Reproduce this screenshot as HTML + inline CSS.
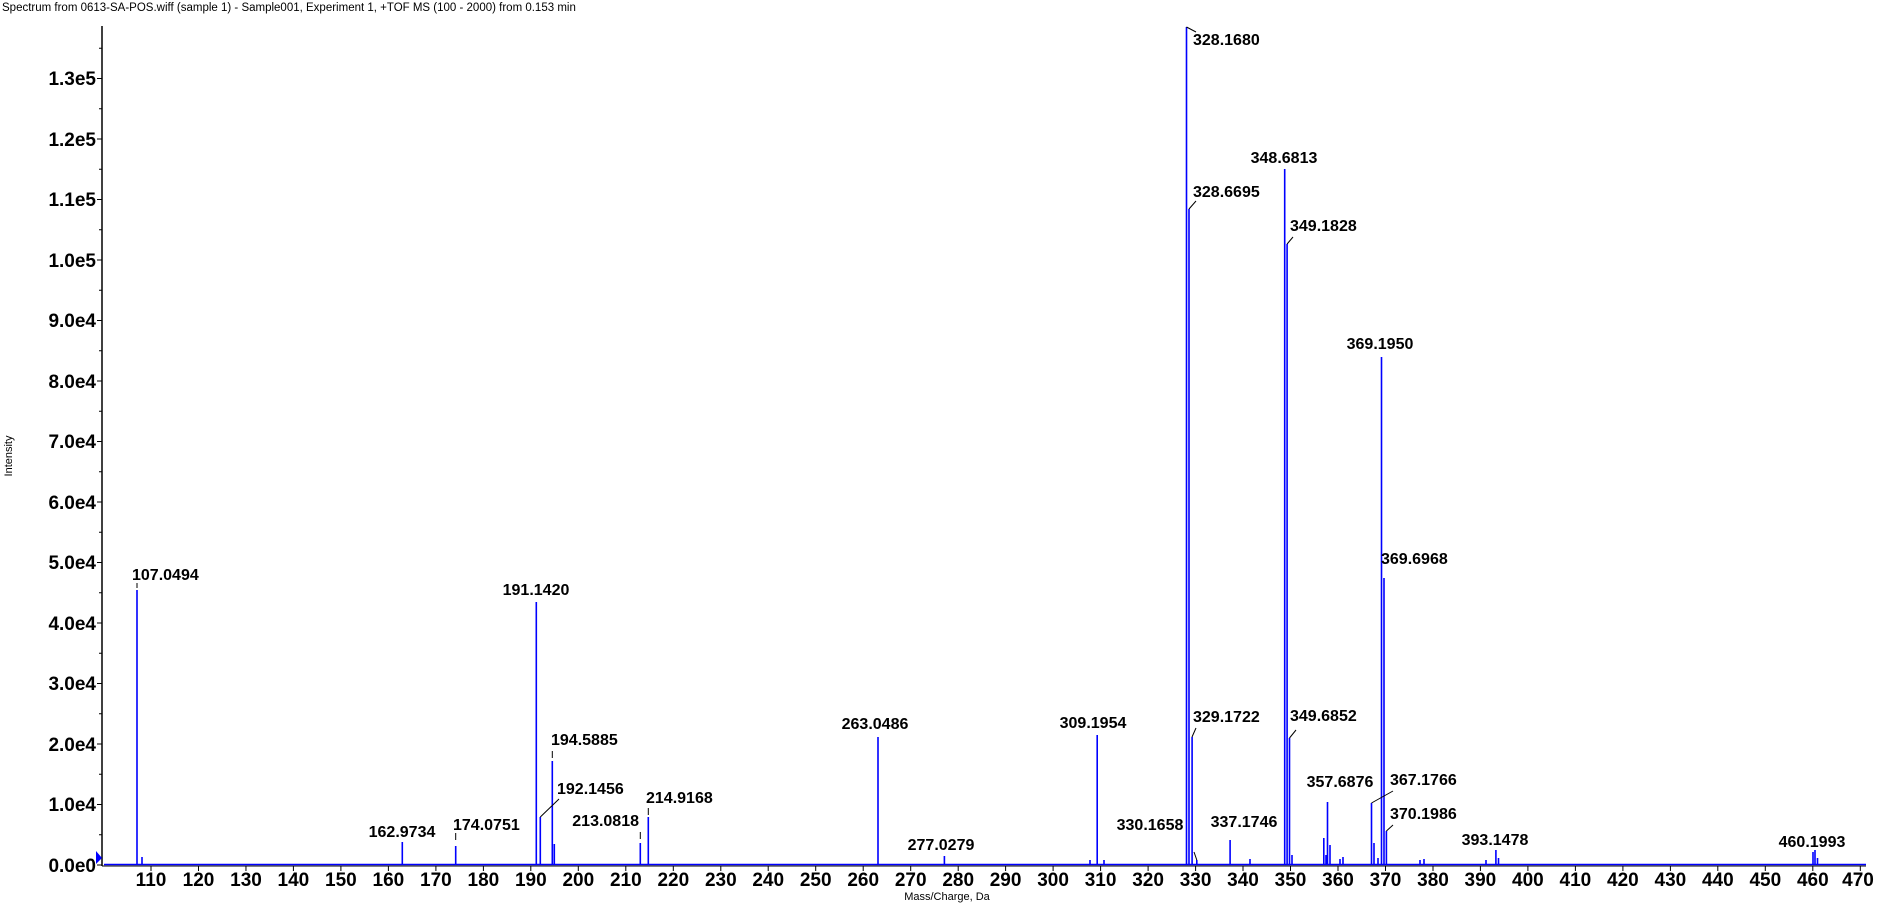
<!DOCTYPE html>
<html><head><meta charset="utf-8"><style>
html,body{margin:0;padding:0;background:#fff;}
svg{display:block;}
.t{font-family:"Liberation Sans",Arial,sans-serif;}
.lb{font-family:"Liberation Sans",Arial,sans-serif;font-size:16px;font-weight:bold;fill:#000;}
.ax{font-family:"Liberation Sans",Arial,sans-serif;font-size:19px;font-weight:bold;fill:#000;}
</style></head><body>
<svg width="1883" height="907" viewBox="0 0 1883 907" xmlns="http://www.w3.org/2000/svg">
<text x="2" y="11" class="t" font-size="11.5">Spectrum from 0613-SA-POS.wiff (sample 1) - Sample001, Experiment 1, +TOF MS (100 - 2000) from 0.153 min</text>
<text class="t" font-size="11" transform="translate(12,456) rotate(-90)" text-anchor="middle">Intensity</text>
<text x="947" y="900" class="t" font-size="11" text-anchor="middle">Mass/Charge, Da</text>
<line x1="102" y1="26" x2="102" y2="866" stroke="#000" stroke-width="1.5"/>
<line x1="102" y1="866" x2="1866" y2="866" stroke="#000" stroke-width="1"/>
<g stroke="#000" stroke-width="1">
<path d="M97 865H102M97 804.5H102M97 744H102M97 683.5H102M97 623H102M97 562.5H102M97 502H102M97 441.5H102M97 381H102M97 320.5H102M97 260H102M97 199.5H102M97 139H102M97 78.5H102"/>
<path d="M99 834.75H102M99 774.25H102M99 713.75H102M99 653.25H102M99 592.75H102M99 532.25H102M99 471.75H102M99 411.25H102M99 350.75H102M99 290.25H102M99 229.75H102M99 169.25H102M99 108.75H102M99 48.25H102"/>
</g>
<g class="ax" text-anchor="end">
<text x="96" y="872">0.0e0</text><text x="96" y="811">1.0e4</text><text x="96" y="751">2.0e4</text><text x="96" y="690">3.0e4</text><text x="96" y="630">4.0e4</text><text x="96" y="569">5.0e4</text><text x="96" y="509">6.0e4</text><text x="96" y="448">7.0e4</text><text x="96" y="388">8.0e4</text><text x="96" y="327">9.0e4</text><text x="96" y="267">1.0e5</text><text x="96" y="206">1.1e5</text><text x="96" y="146">1.2e5</text><text x="96" y="85">1.3e5</text>
</g>
<line x1="104" y1="864.5" x2="1866" y2="864.5" stroke="#0000ff" stroke-width="1.5"/>
<polygon points="96,851 102,858 96,864" fill="#0000ff"/>
<g stroke="#0000ff" stroke-width="1.6">
<path d="M137 865V590M142 865V857M402.3 865V842M455.7 865V846M536.3 865V602M540.3 865V817M552.3 865V761M554.3 865V844M640.3 865V843M648.3 865V817M878 865V737M944.4 865V856M1097.2 865V735M1186.5 865V27M1189 865V209M1192.1 865V737M1196.8 865V860M1230.1 865V840M1284.7 865V169M1287.1 865V244M1289.5 865V738M1292 865V855M1323.8 865V838M1326 865V855M1327.5 865V802M1330 865V845M1371.5 865V803M1374 865V843M1378 865V858M1381.5 865V357M1384 865V578M1386.4 865V831M1495.9 865V850M1498.5 865V858M1813 865V852M1815 865V850M1817.5 865V858M1090 865V860M1104 865V860M1250 865V859M1340 865V859M1343 865V857M1420 865V860M1424 865V859M1486 865V860"/>
</g>
<g stroke="#000" stroke-width="1" fill="none">
<path d="M1186.5 27L1196 32M1189 209L1196 201M1287.1 244L1293 237M540.3 817L559 799M1371.5 803L1393 791M1386.4 831L1393 825M1192 737L1196 728M1289.5 738L1296 730M1196.8 860L1194 852"/>
<path d="M455.7 833V840M552.3 751V758M640.3 832V840M648.3 808V815M137 583V588" stroke-dasharray="7,2"/>
</g>
<g class="lb">
<text x="132" y="580">107.0494</text>
<text x="536" y="595" text-anchor="middle">191.1420</text>
<text x="551" y="745">194.5885</text>
<text x="557" y="794">192.1456</text>
<text x="402" y="837" text-anchor="middle">162.9734</text>
<text x="453" y="830">174.0751</text>
<text x="639" y="826" text-anchor="end">213.0818</text>
<text x="646" y="803">214.9168</text>
<text x="875" y="729" text-anchor="middle">263.0486</text>
<text x="941" y="850" text-anchor="middle">277.0279</text>
<text x="1093" y="728" text-anchor="middle">309.1954</text>
<text x="1193" y="45">328.1680</text>
<text x="1193" y="197">328.6695</text>
<text x="1193" y="722">329.1722</text>
<text x="1150" y="830" text-anchor="middle">330.1658</text>
<text x="1244" y="827" text-anchor="middle">337.1746</text>
<text x="1284" y="163" text-anchor="middle">348.6813</text>
<text x="1290" y="231">349.1828</text>
<text x="1290" y="721">349.6852</text>
<text x="1340" y="787" text-anchor="middle">357.6876</text>
<text x="1390" y="785">367.1766</text>
<text x="1380" y="349" text-anchor="middle">369.1950</text>
<text x="1381" y="564">369.6968</text>
<text x="1390" y="819">370.1986</text>
<text x="1495" y="845" text-anchor="middle">393.1478</text>
<text x="1812" y="847" text-anchor="middle">460.1993</text>
</g>
<g stroke="#000" stroke-width="1">
<path d="M151 866V871M198.5 866V871M245.96 866V871M293.4 866V871M340.9 866V871M388.4 866V871M435.9 866V871M483.4 866V871M530.8 866V871M578.3 866V871M625.8 866V871M673.3 866V871M720.8 866V871M768.2 866V871M815.7 866V871M863.2 866V871M910.7 866V871M958.2 866V871M1005.6 866V871M1053.1 866V871M1100.6 866V871M1148.1 866V871M1195.6 866V871M1243 866V871M1290.5 866V871M1338 866V871M1385.5 866V871M1433 866V871M1480.4 866V871M1527.9 866V871M1575.4 866V871M1622.9 866V871M1670.4 866V871M1717.8 866V871M1765.3 866V871M1812.8 866V871M1860.3 866V871"/>
</g>
<g class="ax" text-anchor="middle">
<text x="151" y="886">110</text><text x="198.5" y="886">120</text><text x="246" y="886">130</text><text x="293.4" y="886">140</text><text x="340.9" y="886">150</text><text x="388.4" y="886">160</text><text x="435.9" y="886">170</text><text x="483.4" y="886">180</text><text x="530.8" y="886">190</text><text x="578.3" y="886">200</text><text x="625.8" y="886">210</text><text x="673.3" y="886">220</text><text x="720.8" y="886">230</text><text x="768.2" y="886">240</text><text x="815.7" y="886">250</text><text x="863.2" y="886">260</text><text x="910.7" y="886">270</text><text x="958.2" y="886">280</text><text x="1005.6" y="886">290</text><text x="1053.1" y="886">300</text><text x="1100.6" y="886">310</text><text x="1148.1" y="886">320</text><text x="1195.6" y="886">330</text><text x="1243" y="886">340</text><text x="1290.5" y="886">350</text><text x="1338" y="886">360</text><text x="1385.5" y="886">370</text><text x="1433" y="886">380</text><text x="1480.4" y="886">390</text><text x="1527.9" y="886">400</text><text x="1575.4" y="886">410</text><text x="1622.9" y="886">420</text><text x="1670.4" y="886">430</text><text x="1717.8" y="886">440</text><text x="1765.3" y="886">450</text><text x="1812.8" y="886">460</text><text x="1858" y="886">470</text>
</g>
</svg>
</body></html>
